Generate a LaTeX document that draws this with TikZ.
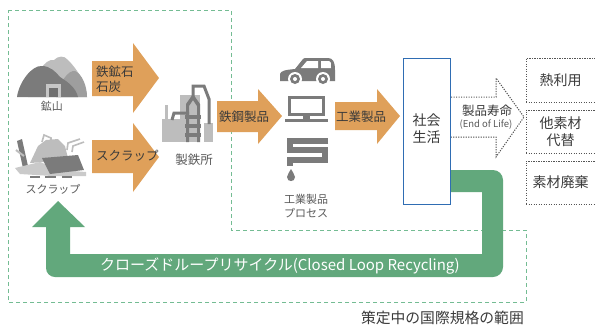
\documentclass[tikz,border=0pt]{standalone}
\usepackage{fontspec}
\setmainfont{Noto Sans CJK JP}
\begin{document}
\begin{tikzpicture}[x=1pt,y=-1pt,
  flowarrow/.style={fill=orangeA},
  iconlabel/.style={text=labelC,font=\fontsize{11}{13}\selectfont,inner sep=0pt},
  arrowlabel/.style={text=textD,font=\fontsize{12.5}{15}\selectfont,inner sep=0pt,align=left},
  boxlabel/.style={text=textD,font=\fontsize{14}{17}\selectfont,inner sep=0pt,align=center},
  dotline/.style={draw=dotC,line width=1pt,dash pattern=on 1.2pt off 1.3pt},
  outcome/.style={dotline,minimum width=69pt,inner sep=0pt}
]
\definecolor{orangeA}{HTML}{DFA05A}
\definecolor{greenA}{HTML}{62A87C}
\definecolor{greenD}{HTML}{74BC93}
\definecolor{blueA}{HTML}{2F6DB3}
\definecolor{iconD}{HTML}{7B7B7B}
\definecolor{iconM}{HTML}{9E9E9E}
\definecolor{iconL}{HTML}{BDBDBD}
\definecolor{labelC}{HTML}{5A5A5A}
\definecolor{textD}{HTML}{3A3A3A}
\definecolor{dotC}{HTML}{555555}

\useasboundingbox (0,0) rectangle (595,325);
\fill[white] (0,0) rectangle (595,325);

% scope of the standard under development
\draw[greenD,line width=0.8pt,dash pattern=on 4pt off 3pt]
  (8,10) -- (231,10) -- (231,230) -- (526,230) -- (526,302) -- (8,302) -- cycle;
\node[anchor=east,text=textD,font=\fontsize{14.8}{16}\selectfont,inner sep=0pt] (scope) at (524,318) {策定中の国際規格の範囲};

% closed loop recycling band
\fill[greenA] (440,170) -- (493,170) arc[start angle=-90,end angle=0,radius=10]
  -- (503,267) arc[start angle=0,end angle=90,radius=10]
  -- (55,277) arc[start angle=90,end angle=180,radius=9]
  -- (46,227) -- (32,227) -- (58,201) -- (85,227) -- (70,227) -- (70,254)
  -- (482,254) -- (482,192) -- (440,192) -- cycle;
\node[text=white,font=\fontsize{15}{17}\selectfont,inner sep=0pt] (loop) at (280,266) {クローズドループリサイクル(Closed Loop Recycling)};

% orange flow arrows
\fill[flowarrow] (92,61) -- (133,61) -- (133,43) -- (159,78) -- (133,113) -- (133,96) -- (92,96) -- cycle;
\fill[flowarrow] (92,140) -- (133,140) -- (133,123) -- (159,157) -- (133,192) -- (133,173) -- (92,173) -- cycle;
\fill[flowarrow] (217,101) -- (258,101) -- (258,89) -- (282,116) -- (258,144) -- (258,132) -- (217,132) -- cycle;
\fill[flowarrow] (335,102) -- (377,102) -- (377,89) -- (400,116) -- (377,144) -- (377,130) -- (335,130) -- cycle;
\node[arrowlabel,anchor=west] (ore) at (96,79) {鉄鉱石\\石炭};
\node[arrowlabel,anchor=west] (scrapin) at (96,156) {スクラップ};
\node[arrowlabel,anchor=west] (steel) at (219,117) {鉄鋼製品};
\node[arrowlabel,anchor=west] (goods) at (336,117) {工業製品};

% society box
\node[draw=blueA,line width=1pt,fill=white,minimum width=47pt,minimum height=146pt,inner sep=0pt] (society) at (426.5,131) {};
\node[boxlabel] (societytext) at (426.5,129) {社会\\生活};

% end-of-life dotted arrow
\draw[dotline] (451,97) -- (496,97) -- (496,78) -- (524,117) -- (496,157) -- (496,137) -- (451,137);
\node[text=textD,font=\fontsize{12.5}{14}\selectfont,inner sep=0pt] (eol) at (487,111) {製品寿命};
\node[text=labelC,font=\fontsize{9.5}{11}\selectfont,inner sep=0pt] (eolen) at (486,125) {(End of Life)};

% outcomes
\node[outcome,minimum height=44pt] (heat) at (560.5,80) {};
\node[boxlabel] (heattext) at (heat) {熱利用};
\node[outcome,minimum height=43pt] (subst) at (560.5,131.5) {};
\node[boxlabel] (substtext) at (subst) {他素材\\代替};
\node[outcome,minimum height=43pt] (waste) at (560.5,182.5) {};
\node[boxlabel] (wastetext) at (waste) {素材廃棄};

% mine icon
\fill[iconL] (28,97) .. controls (35,75) and (45,58) .. (54,60) .. controls (58,56) and (64,55) .. (68,60) .. controls (76,68) and (86,82) .. (87,97) -- cycle;
\fill[iconM] (56,97) .. controls (60,82) and (68,70) .. (75,71) .. controls (82,74) and (87,86) .. (87,97) -- cycle;
\fill[iconD] (17,97) .. controls (19,82) and (32,65) .. (42,66) .. controls (50,66) and (56,72) .. (60,77) .. controls (68,82) and (76,88) .. (78,97) -- cycle;
\fill[gray!45] (46,84) rectangle (61,97);
\fill[iconD!90!black] (49,88) rectangle (58,97);
\node[iconlabel] (mine) at (52,106) {鉱山};

% scrap icon
\fill[iconD] (17,141) -- (22,139) -- (28,166) -- (23,168) -- cycle;
\draw[iconL,line width=2pt] (16,150) -- (24,156);
\fill[iconL] (30,163) -- (38,146) -- (46,140) -- (58,139) -- (65,146) -- (68,158) -- (45,162) -- cycle;
\draw[iconL,line width=1.6pt] (42,142) -- (44,135) -- (51,138) -- (51,144);
\draw[iconL,line width=1.6pt] (67,150) -- (68,143) -- (80,139);
\draw[iconL,line width=1.6pt] (72,152) -- (73,146) -- (84,142);
\fill[iconL!80!white] (15,168) -- (40,162) -- (60,170) -- (86,172) -- (86,176) -- (52,176) -- (20,174) -- cycle;
\fill[iconD] (42,158) -- (78,155) -- (84,170) -- (50,174) -- cycle;
\fill[iconD] (30,176) rectangle (40,178);
\fill[iconD] (45,176) rectangle (56,178);
\fill[iconD] (62,176) rectangle (72,178);
\node[iconlabel] (scrap) at (53,189) {スクラップ};

% steel mill icon
\fill[iconL] (180,95) rectangle (200,142);
\fill[iconL] (162,119) rectangle (181,142);
\fill[iconL] (165,105) rectangle (168,119);
\fill[iconL] (204,123) rectangle (213,142);
\draw[iconD,line width=3pt] (172,120) -- (174,113) -- (189,113);
\draw[iconD,line width=3pt,line join=miter] (193,97) -- (193,86) -- (204,86) -- (209,99) -- (209,124);
\fill[iconD] (186,104) -- (193,94) -- (200,104) -- (200,142) -- (197,142) -- (197,106) -- (193,100) -- (189,106) -- (189,142) -- (186,142) -- cycle;
\fill[iconD] (185,115) rectangle (201,119);
\fill[iconD] (185,124) rectangle (201,128);
\fill[iconD] (185,133) rectangle (201,137);
\node[iconlabel,font=\fontsize{12.5}{14}\selectfont] (mill) at (194,160) {製鉄所};

% car icon
\fill[iconD] (280,81) -- (280,74) .. controls (281,71) and (284,70) .. (295,69) -- (303,59) .. controls (304,58) and (305,58) .. (307,58) -- (328,58) .. controls (333,58) and (335,62) .. (335,70) -- (335,81) -- cycle;
\fill[white] (301,68) -- (307,61) -- (318,61) -- (318,68) -- cycle;
\fill[white] (321,61) -- (329,61) .. controls (331,61) and (331,63) .. (331,68) -- (321,68) -- cycle;
\fill[white] (295,79) circle[radius=7];
\fill[iconD] (295,79) circle[radius=5];
\fill[white] (295,79) circle[radius=2];
\fill[white] (323,79) circle[radius=7];
\fill[iconD] (323,79) circle[radius=5];
\fill[white] (323,79) circle[radius=2];

% monitor icon
\fill[iconD] (288,96) rectangle (325,116);
\fill[white] (291,99) rectangle (322,113);
\fill[iconD] (303,116) rectangle (310,119);
\fill[iconD] (285,119) rectangle (328,122);

% pipe and drop icon
\draw[iconD,line width=6pt,line join=miter] (328,140.5) -- (290,140.5) -- (290,150) -- (325,150) -- (325,160) -- (290,160) -- (290,166);
\fill[iconD] (291,169) .. controls (292,172) and (295,174) .. (295,177) .. controls (295,180) and (293,181) .. (291,181) .. controls (289,181) and (287,180) .. (287,177) .. controls (287,174) and (290,172) .. (291,169) -- cycle;
\node[iconlabel,align=center,font=\fontsize{11}{14}\selectfont] (process) at (306,206) {工業製品\\プロセス};
\end{tikzpicture}
\end{document}
